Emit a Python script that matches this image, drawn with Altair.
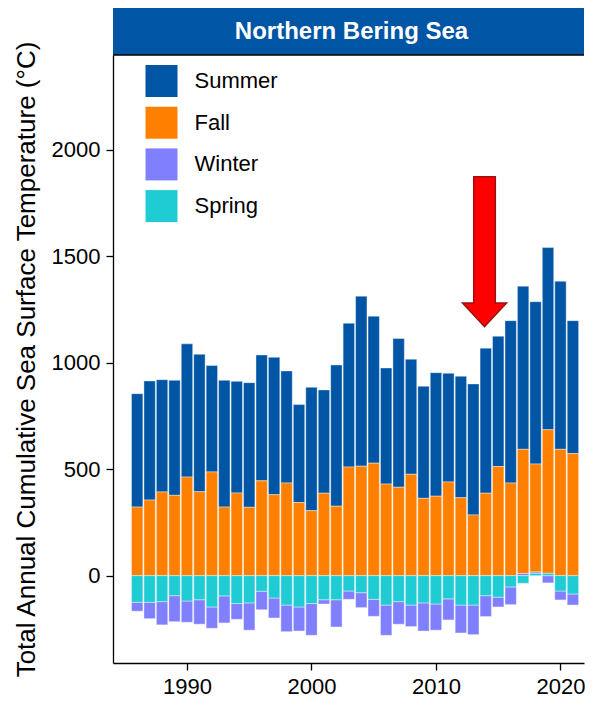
import altair as alt
import pandas as pd

# ---------------- data ----------------
years = list(range(1986, 2022))
summer = [532, 559, 527, 540, 625, 645, 499, 595, 524, 585, 591, 645, 526, 460, 579, 485, 663, 675,
          798, 690, 545, 698, 540, 526, 580, 510, 570, 615, 681, 612, 762, 766, 762, 855, 789, 624]
fall = [322, 355, 393, 377, 463, 394, 487, 322, 388, 321, 445, 380, 435, 343, 305, 387, 326, 510,
        514, 528, 430, 415, 476, 363, 373, 440, 366, 285, 387, 512, 435, 583, 507, 674, 593, 573]
winter = [-42, -77, -109, -122, -100, -115, -100, -127, -74, -128, -87, -94, -125, -113, -149, -20, -128, -39,
          -70, -80, -142, -106, -101, -132, -123, -99, -131, -139, -98, -46, -83, 10, 6, -34, -42, -52]
spring = [-125, -125, -122, -94, -119, -113, -147, -95, -131, -128, -73, -105, -138, -147, -131, -113, -113, -72,
          -80, -111, -138, -122, -138, -128, -133, -109, -138, -138, -94, -101, -53, -36, 11, 11, -72, -86]

seasons = ["Summer", "Fall", "Winter", "Spring"]
season_colors = ["#0055A4", "#FF8000", "#8080FF", "#20CCD4"]
stack_rank = {"Spring": 0, "Winter": 1, "Fall": 2, "Summer": 3}

x_ticks = [1990, 2000, 2010, 2020]
y_ticks = [0, 500, 1000, 1500, 2000]

panel_title = ["Northern Bering Sea"]

# arrow annotation (data units)
arrow_year = [2013.9]
arrow_top = [1873]
arrow_tip = [1169]
arrow_head_base = [1280]

# ---------------- layout ----------------
FONT = "Liberation Sans"
W, H = 471, 608
x_dom = [1984.46, 1984.46 + W / 12.72]
y_dom = [-410, 2444]
ppu = H / (y_dom[1] - y_dom[0])

rows = []
for s, vals in zip(seasons, [summer, fall, winter, spring]):
    for yr, v in zip(years, vals):
        rows.append({"year": yr, "season": s, "value": v, "rank": stack_rank[s]})
df = pd.DataFrame(rows)

xs = alt.Scale(domain=x_dom, nice=False, zero=False)
ys = alt.Scale(domain=y_dom, nice=False, zero=False)

bars = alt.Chart(df).mark_bar(size=11.4, stroke="white", strokeWidth=0.5, strokeOpacity=0.8).encode(
    x=alt.X("year:Q", scale=xs,
            axis=alt.Axis(values=x_ticks, format="d", title=None, grid=False)),
    y=alt.Y("value:Q", scale=ys, stack="zero",
            axis=alt.Axis(values=y_ticks, format="d", grid=False,
                          title="Total Annual Cumulative Sea Surface Temperature (°C)")),
    color=alt.Color("season:N",
                    scale=alt.Scale(domain=seasons, range=season_colors),
                    legend=alt.Legend(title=None, orient="none", legendX=31.5, legendY=9,
                                      symbolType="square", symbolSize=1089,
                                      symbolStrokeColor="white", symbolStrokeWidth=1,
                                      labelFontSize=22, labelFont=FONT, labelColor="black",
                                      labelOffset=16, rowPadding=3.7, padding=0)),
    order=alt.Order("rank:Q", sort="ascending"),
)

# arrow drawn as one custom symbol spanning top -> tip
arrow_px = (arrow_top[0] - arrow_tip[0]) * ppu
half = arrow_px / 2
sx = 10.8 / half
hx = 22.0 / half
hb = 1 - (arrow_head_base[0] - arrow_tip[0]) * ppu / half
arrow_path = (f"M{-sx:.4f},-1 L{sx:.4f},-1 L{sx:.4f},{hb:.4f} L{hx:.4f},{hb:.4f} "
              f"L0,1 L{-hx:.4f},{hb:.4f} L{-sx:.4f},{hb:.4f} Z")
arrow_df = pd.DataFrame({"year": arrow_year,
                         "mid": [(a + b) / 2 for a, b in zip(arrow_top, arrow_tip)]})
arrow = alt.Chart(arrow_df).mark_point(
    shape=arrow_path, size=arrow_px ** 2, filled=True, fill="#FF0000",
    stroke="#A01010", strokeWidth=1.5, opacity=1
).encode(x=alt.X("year:Q", scale=xs), y=alt.Y("mid:Q", scale=ys))

# panel strip (facet-style header)
strip_df = pd.DataFrame({"label": panel_title})
strip_rect = alt.Chart(strip_df).mark_rect(color="#0055A4", clip=False).encode(
    x=alt.value(0), x2=alt.value(W), y=alt.value(-47), y2=alt.value(0))
strip_line = alt.Chart(strip_df).mark_rule(color="black", strokeWidth=1.3, clip=False).encode(
    x=alt.value(0), x2=alt.value(W), y=alt.value(0))
strip_text = alt.Chart(strip_df).mark_text(
    color="white", fontSize=24, fontWeight="bold", font=FONT, baseline="middle", align="center"
).encode(x=alt.value(W / 2 + 3), y=alt.value(-23), text="label:N")

chart = alt.layer(bars, arrow, strip_rect, strip_line, strip_text).properties(
    width=W, height=H,
    padding={"left": 5, "top": 0, "right": 0, "bottom": 5},
).configure_view(stroke=None).configure_axis(
    domainColor="black", domainWidth=1.3, tickColor="black", tickWidth=1.3, tickSize=7,
    labelFontSize=22, labelFont=FONT, labelColor="black", labelPadding=6,
    titleFont=FONT, titleFontSize=26, titleFontWeight="normal", titleColor="black", titlePadding=12,
)

chart.save("out.html", embed_options={"renderer": "svg", "actions": False})
